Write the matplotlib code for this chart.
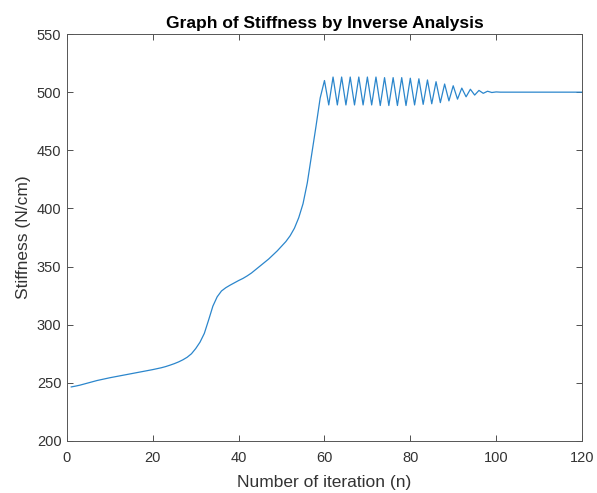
import matplotlib
matplotlib.use('Agg')
import matplotlib.pyplot as plt

plt.rcParams['font.family'] = ['Liberation Sans', 'DejaVu Sans']

# iteration index and identified stiffness (N/cm)
iterations = list(range(1, 121))
stiffness = [
    246.5, 247.2, 248.0, 249.0, 250.0, 251.0, 252.0, 252.8, 253.6, 254.4,
    255.1, 255.8, 256.5, 257.2, 257.9, 258.6, 259.3, 260.0, 260.7, 261.4,
    262.2, 263.0, 264.0, 265.2, 266.5, 268.0, 269.8, 272.0, 275.0, 279.5,
    285.0, 292.5, 304.0, 316.0, 324.0, 329.0, 331.8, 334.0, 336.0, 338.0,
    339.8, 342.0, 344.5, 347.5, 350.5, 353.5, 356.5, 360.0, 363.5, 367.5,
    371.5, 376.5, 383.0, 392.0, 404.0, 422.0, 446.0, 470.0, 495.0, 510.0,
    489.0, 513.0, 489.0, 513.0, 489.0, 513.0, 489.0, 513.0, 489.0, 513.0,
    489.0, 513.0, 488.5, 512.5, 488.5, 512.5, 488.5, 512.5, 488.5, 512.0,
    489.0, 511.5, 489.5, 510.5, 490.0, 509.0, 491.0, 507.0, 492.5, 505.5,
    494.0, 503.5, 496.0, 502.5, 497.5, 501.5, 499.0, 500.8, 499.7, 500.2,
    500.0, 500.0, 500.0, 500.0, 500.0, 500.0, 500.0, 500.0, 500.0, 500.0,
    500.0, 500.0, 500.0, 500.0, 500.0, 500.0, 500.0, 500.0, 500.0, 500.0,
]
x_ticks = [0, 20, 40, 60, 80, 100, 120]
y_ticks = [200, 250, 300, 350, 400, 450, 500, 550]

AXIS_COLOR = '#333333'

fig = plt.figure(figsize=(5.97, 4.93), dpi=100)
ax = fig.add_axes([0.1122, 0.1055, 0.8626, 0.8255])
ax.plot(iterations, stiffness, color='#2b86cc', linewidth=0.9)

ax.set_xlim(0, 120)
ax.set_ylim(200, 550)
ax.set_xticks(x_ticks)
ax.set_yticks(y_ticks)
ax.tick_params(direction='in', length=4, width=0.6, colors=AXIS_COLOR,
               labelsize=10.5, top=True, right=True, labeltop=False, labelright=False)
ax.tick_params(axis='x', pad=7.5)
ax.tick_params(axis='y', pad=4)
for spine in ax.spines.values():
    spine.set_color('#555555')
    spine.set_linewidth(0.7)

ax.set_title('Graph of Stiffness by Inverse Analysis', fontsize=12.5,
             fontweight='bold', pad=4.5)
ax.set_xlabel('Number of iteration (n)', fontsize=12.5, color=AXIS_COLOR, labelpad=7)
ax.set_ylabel('Stiffness (N/cm)', fontsize=12.5, color=AXIS_COLOR, labelpad=4.5)

fig.savefig('out.png', dpi=100)
